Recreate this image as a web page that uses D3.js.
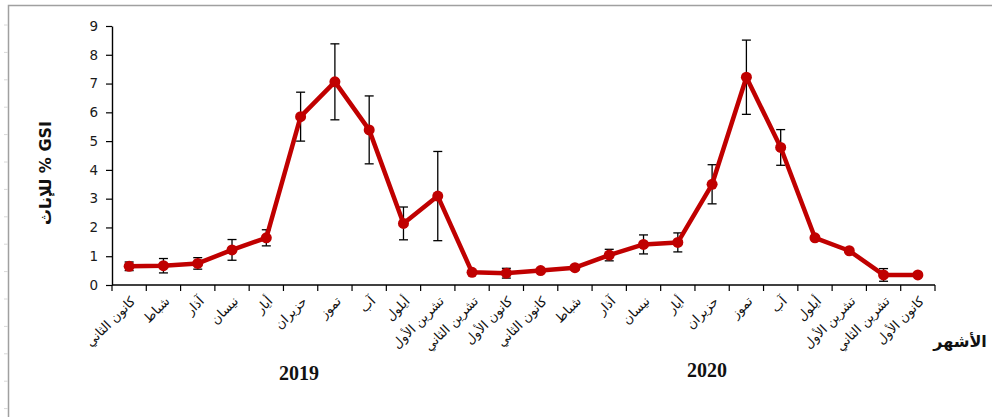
<!DOCTYPE html>
<html lang="ar">
<head>
<meta charset="utf-8">
<script src="https://cdn.jsdelivr.net/npm/d3@7"></script>
<style>
  html, body { margin: 0; padding: 0; background: #fff; }
  svg { display: block; }
</style>
</head>
<body>
<svg id="chart" width="992" height="417"></svg>
<script>
// Months of the two sampling years (Levantine Arabic month names)
const months2019 = ["كانون الثاني", "شباط", "آذار", "نيسان", "أيار", "حزيران", "تموز", "آب", "أيلول", "تشرين الأول", "تشرين الثاني", "كانون الأول"];
const months2020 = ["كانون الثاني", "شباط", "آذار", "نيسان", "أيار", "حزيران", "تموز", "آب", "أيلول", "تشرين الأول", "تشرين الثاني", "كانون الأول"];
const years = ["2019", "2020"];

// Female gonadosomatic index (GSI %) – monthly means
const gsi2019 = [0.65, 0.67, 0.75, 1.22, 1.64, 5.85, 7.06, 5.39, 2.14, 3.09, 0.44, 0.41];
const gsi2020 = [0.50, 0.60, 1.04, 1.41, 1.48, 3.50, 7.22, 4.78, 1.64, 1.19, 0.35, 0.35];

// Standard deviations for the error bars
const sd2019 = [0.15, 0.25, 0.20, 0.36, 0.28, 0.85, 1.32, 1.18, 0.57, 1.55, 0.05, 0.17];
const sd2020 = [0.05, 0.08, 0.20, 0.33, 0.33, 0.68, 1.29, 0.62, 0.05, 0.05, 0.22, 0.04];

const yTicks = [0, 1, 2, 3, 4, 5, 6, 7, 8, 9];

const points = months2019.map((m, i) => ({ key: i, label: m, v: gsi2019[i], sd: sd2019[i] }))
  .concat(months2020.map((m, i) => ({ key: 12 + i, label: m, v: gsi2020[i], sd: sd2020[i] })));

const svg = d3.select("#chart");
const plotLeft = 112, plotRight = 935, plotTop = 26, plotBottom = 285;

const x = d3.scaleBand().domain(points.map(d => d.key)).range([plotLeft, plotRight]).paddingInner(0).paddingOuter(0);
const y = d3.scaleLinear().domain([0, 9]).range([plotBottom, plotTop]);
const cx = d => x(d.key) + x.bandwidth() / 2;

// Outer chart frame (left and top edges only)
svg.append("path")
  .attr("d", `M8.5,417 V5.5 H992`)
  .attr("fill", "none").attr("stroke", "#a0a0a0").attr("stroke-width", 1.5);
svg.append("g").selectAll("line")
  .data(d3.range(15))
  .join("line")
  .attr("x1", 4).attr("x2", 8)
  .attr("y1", k => 25 + k * 27.4).attr("y2", k => 25 + k * 27.4)
  .attr("stroke", "#d8d8d8").attr("stroke-width", 1);

// Y axis
const yAxis = svg.append("g")
  .attr("transform", `translate(${plotLeft},0)`)
  .call(d3.axisLeft(y).tickValues(yTicks).tickSize(6).tickSizeOuter(0).tickPadding(8));
yAxis.select(".domain").attr("stroke", "#000").attr("stroke-width", 1.4);
yAxis.selectAll(".tick line").attr("stroke", "#000").attr("stroke-width", 1.2);
yAxis.selectAll(".tick text")
  .attr("fill", "#1a1a1a")
  .style("font-family", "'DejaVu Sans', Verdana, sans-serif")
  .style("font-size", "13.5px");

// X axis: ticks at every category boundary
const boundaries = d3.range(points.length + 1).map(i => plotLeft + i * x.bandwidth());
svg.append("line")
  .attr("x1", plotLeft).attr("x2", plotRight).attr("y1", plotBottom).attr("y2", plotBottom)
  .attr("stroke", "#000").attr("stroke-width", 1.4);
svg.append("g").selectAll("line")
  .data(boundaries)
  .join("line")
  .attr("x1", d => d).attr("x2", d => d)
  .attr("y1", plotBottom).attr("y2", plotBottom + 6)
  .attr("stroke", "#000").attr("stroke-width", 1.2);

// Month labels, slanted
svg.append("g").selectAll("text")
  .data(points)
  .join("text")
  .attr("transform", d => `translate(${cx(d) + 7},${plotBottom + 17}) rotate(-45)`)
  .attr("text-anchor", "end")
  .attr("direction", "ltr")
  .attr("fill", "#111")
  .style("font-family", "'DejaVu Sans', sans-serif")
  .style("font-size", "13px")
  .text(d => d.label);

// Year captions under each half
svg.append("g").selectAll("text")
  .data(years)
  .join("text")
  .attr("x", (d, i) => i === 0 ? 299 : 707)
  .attr("y", (d, i) => i === 0 ? 380 : 377)
  .attr("text-anchor", "middle")
  .attr("fill", "#111")
  .style("font-family", "'Liberation Serif', 'Times New Roman', serif")
  .style("font-weight", "bold")
  .style("font-size", "20px")
  .text(d => d);

// Axis titles
svg.append("text")
  .attr("x", 960).attr("y", 347)
  .attr("text-anchor", "middle")
  .attr("fill", "#111")
  .style("font-family", "'DejaVu Sans', sans-serif")
  .style("font-weight", "bold")
  .style("font-size", "16px")
  .text("الأشهر");

svg.append("text")
  .attr("transform", "translate(51,173) rotate(-90)")
  .attr("text-anchor", "middle")
  .attr("fill", "#111")
  .style("font-family", "'DejaVu Sans', sans-serif")
  .style("font-weight", "bold")
  .style("font-size", "16px")
  .text("للإناث % GSI");

// Error bars
const eb = svg.append("g").attr("stroke", "#000").attr("stroke-width", 1.3);
points.forEach(d => {
  const xc = cx(d), y1 = y(d.v + d.sd), y0 = y(Math.max(0, d.v - d.sd));
  eb.append("line").attr("x1", xc).attr("x2", xc).attr("y1", y1).attr("y2", y0);
  eb.append("line").attr("x1", xc - 4.5).attr("x2", xc + 4.5).attr("y1", y1).attr("y2", y1);
  eb.append("line").attr("x1", xc - 4.5).attr("x2", xc + 4.5).attr("y1", y0).attr("y2", y0);
});

// Mean line with markers
const line = d3.line().x(cx).y(d => y(d.v));
svg.append("path")
  .datum(points)
  .attr("d", line)
  .attr("fill", "none")
  .attr("stroke", "#c00000")
  .attr("stroke-width", 4.5)
  .attr("stroke-linejoin", "round");
svg.append("g").selectAll("circle")
  .data(points)
  .join("circle")
  .attr("cx", cx)
  .attr("cy", d => y(d.v))
  .attr("r", 5.5)
  .attr("fill", "#c00000");
</script>
</body>
</html>
